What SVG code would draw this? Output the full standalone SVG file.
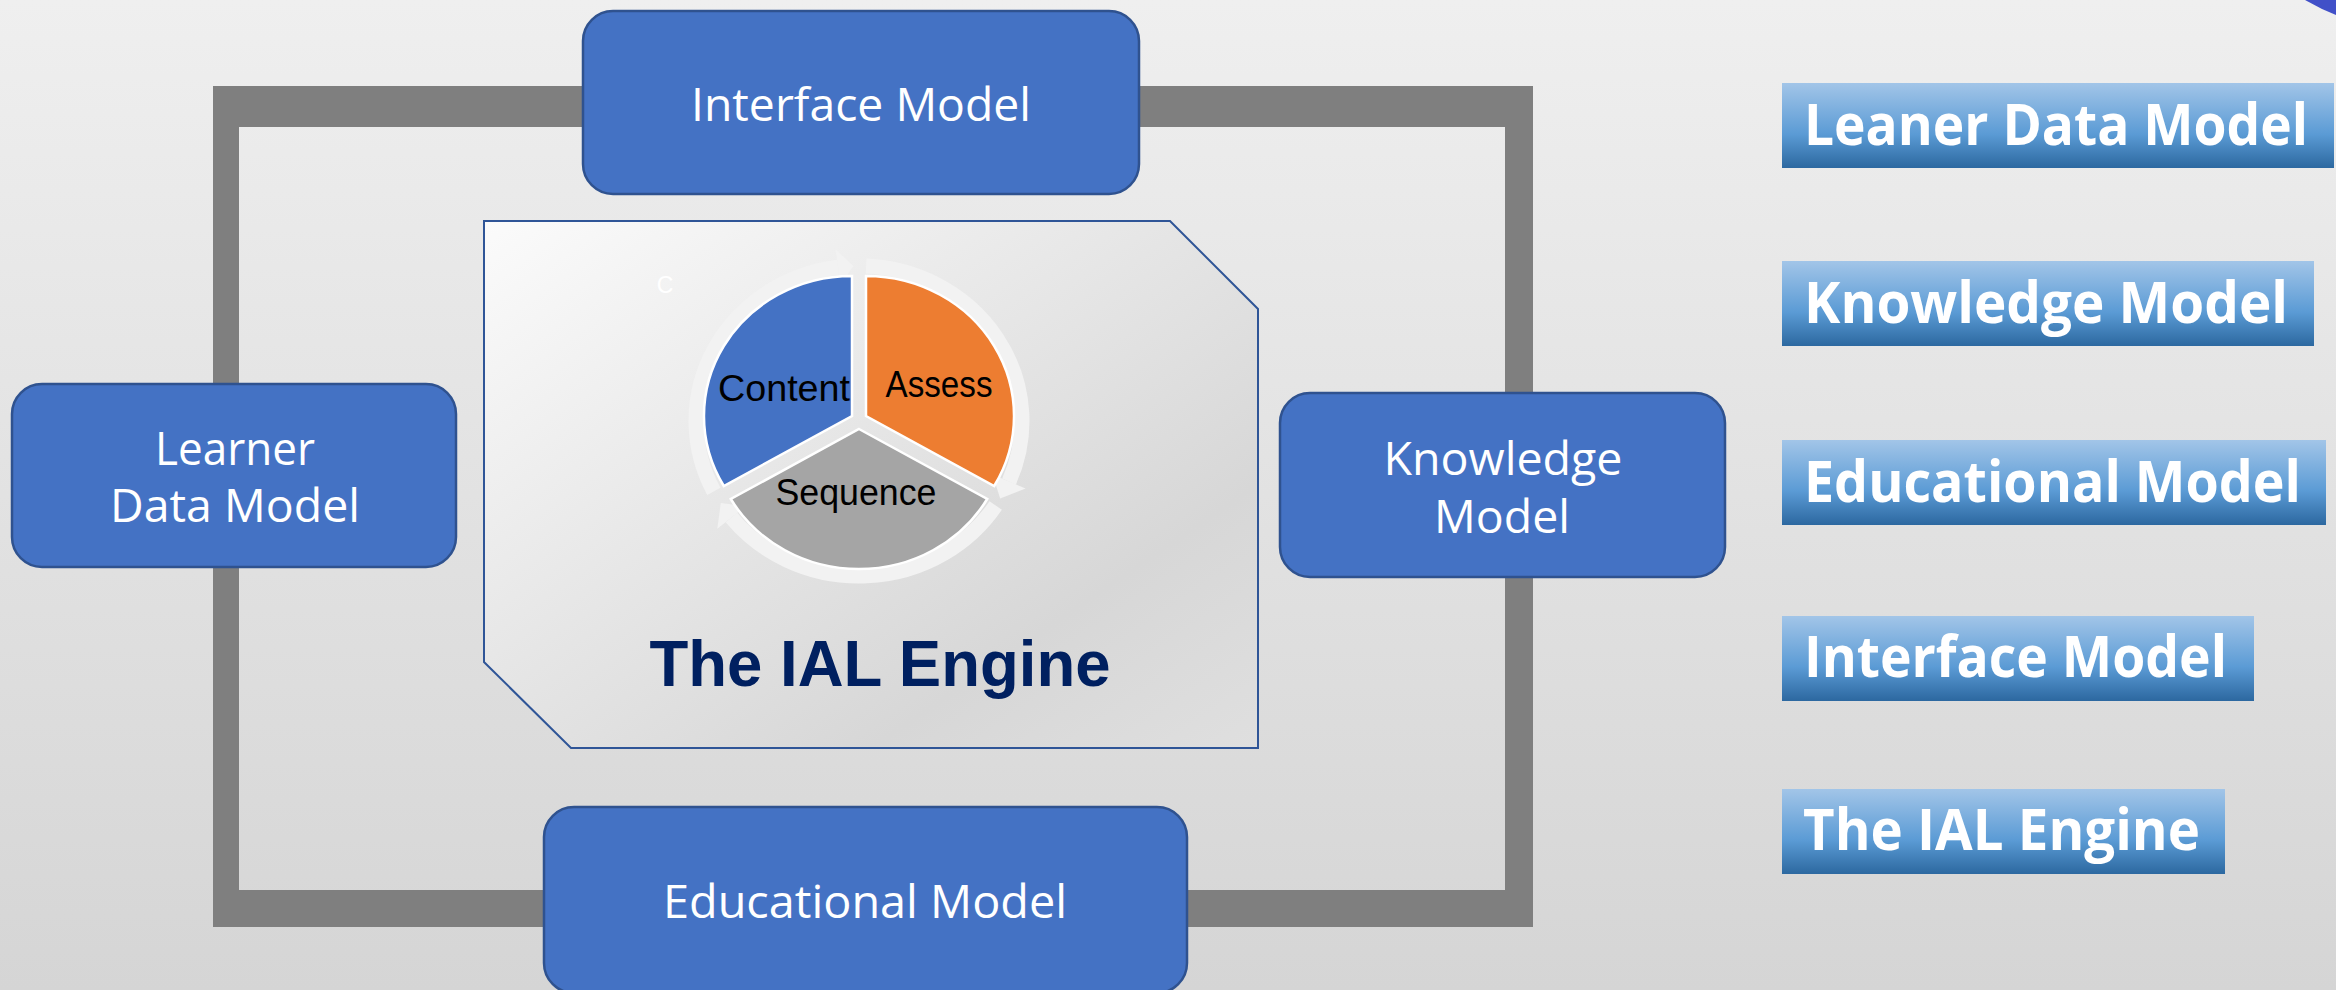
<svg xmlns="http://www.w3.org/2000/svg" width="2336" height="990" viewBox="0 0 2336 990">
<defs>
<linearGradient id="bg" x1="0" y1="0" x2="0" y2="1">
<stop offset="0" stop-color="#efefef"/>
<stop offset="1" stop-color="#d5d5d5"/>
</linearGradient>
<linearGradient id="panel" x1="0" y1="0" x2="1" y2="1">
<stop offset="0" stop-color="#fbfbfb"/>
<stop offset="0.75" stop-color="#d7d7d7"/>
<stop offset="1" stop-color="#dfdfdf"/>
</linearGradient>
<linearGradient id="tag" x1="0" y1="0" x2="0" y2="1">
<stop offset="0" stop-color="#a2c5e8"/>
<stop offset="0.6" stop-color="#5b9bd5"/>
<stop offset="1" stop-color="#2c68a0"/>
</linearGradient>
<style>
.node{fill:#4472C4;stroke:#2F528F;stroke-width:2.5}
.nt{font-family:"Open Sans","Noto Sans",sans-serif;font-size:46px;fill:#ffffff;text-anchor:middle}
.tag{fill:url(#tag)}
.tt{font-family:"Open Sans","Noto Sans",sans-serif;font-weight:bold;font-size:58px;fill:#ffffff}
.ring{fill:none;stroke:#f2f2f2;stroke-width:15}
.head{fill:#f2f2f2}
.pt{font-family:"Liberation Sans",Arial,sans-serif;font-size:36px;fill:#000000;text-anchor:middle}
.slice{stroke:#ffffff;stroke-width:2.5}
</style>
</defs>
<rect x="0" y="0" width="2336" height="990" fill="url(#bg)"/>
<polygon points="2305,0 2336,0 2336,15 2322,9" fill="#4150c8"/>

<g id="connectors">
<path d="M213 86 H1533 V927 H213 Z M239 127 V890 H1505 V127 Z" fill="#7f7f7f" fill-rule="evenodd"/>
</g>

<g id="engine">
<polygon points="484,221 1170,221 1258,309 1258,748 571,748 484,662" fill="url(#panel)" stroke="#2F5597" stroke-width="2"/>
<text x="665" y="293" font-family="Liberation Sans, Arial, sans-serif" font-size="23" fill="#ffffff" text-anchor="middle">C</text>
<g id="cycle">
<path class="ring" d="M713.8 491.4 A163 155 0 0 1 838 267.3"/>
<polygon class="head" points="835.7,249.4 853.3,266.1 840.3,285.1"/>
<path class="ring" d="M866.1 266.1 A163 155 0 0 1 1009 481.6"/>
<polygon class="head" points="1025.6,488.6 1000.2,498.5 992.5,474.5"/>
<path class="ring" d="M995.7 505.4 A163 155 0 0 1 731.4 517.5"/>
<polygon class="head" points="745.5,506.3 720.8,503.1 717.3,528.7"/>
<path class="slice" fill="#4472C4" d="M852 416 L852 276 A148 140 0 0 0 723.8 486 Z"/>
<path class="slice" fill="#ED7D31" d="M866 416 L866 276 A148 140 0 0 1 994.2 486 Z"/>
<path class="slice" fill="#A5A5A5" d="M859 429 L987.2 499 A148 140 0 0 1 730.8 499 Z"/>
<text class="pt" x="784" y="401" textLength="132" lengthAdjust="spacingAndGlyphs">Content</text>
<text class="pt" x="939" y="397" textLength="107" lengthAdjust="spacingAndGlyphs">Assess</text>
<text class="pt" x="856" y="505" textLength="161" lengthAdjust="spacingAndGlyphs">Sequence</text>
</g>
<text x="880" y="686" font-family="Liberation Sans, Arial, sans-serif" font-weight="bold" font-size="64" fill="#002060" text-anchor="middle" textLength="461" lengthAdjust="spacingAndGlyphs">The IAL Engine</text>
</g>

<g id="interface-model">
<rect class="node" x="583" y="11" width="556" height="183" rx="30"/>
<text class="nt" x="861" y="121" textLength="340" lengthAdjust="spacingAndGlyphs">Interface Model</text>
</g>
<g id="learner-data-model">
<rect class="node" x="12" y="384" width="444" height="183" rx="30"/>
<text class="nt" x="235" y="465" textLength="160" lengthAdjust="spacingAndGlyphs">Learner</text>
<text class="nt" x="235" y="522" textLength="250" lengthAdjust="spacingAndGlyphs">Data Model</text>
</g>
<g id="knowledge-model">
<rect class="node" x="1280" y="393" width="445" height="184" rx="30"/>
<text class="nt" x="1503" y="475" textLength="239" lengthAdjust="spacingAndGlyphs">Knowledge</text>
<text class="nt" x="1502" y="533" textLength="136" lengthAdjust="spacingAndGlyphs">Model</text>
</g>
<g id="educational-model">
<rect class="node" x="544" y="807" width="643" height="186" rx="30"/>
<text class="nt" x="865" y="918" textLength="404" lengthAdjust="spacingAndGlyphs">Educational Model</text>
</g>

<g id="legend">
<g id="tag-leaner"><rect class="tag" x="1782" y="83" width="552" height="85"/>
<text class="tt" x="1804" y="145" textLength="504" lengthAdjust="spacingAndGlyphs">Leaner Data Model</text></g>
<g id="tag-knowledge"><rect class="tag" x="1782" y="261" width="532" height="85"/>
<text class="tt" x="1804" y="323" textLength="484" lengthAdjust="spacingAndGlyphs">Knowledge Model</text></g>
<g id="tag-educational"><rect class="tag" x="1782" y="440" width="544" height="85"/>
<text class="tt" x="1804" y="502" textLength="497" lengthAdjust="spacingAndGlyphs">Educational Model</text></g>
<g id="tag-interface"><rect class="tag" x="1782" y="616" width="472" height="85"/>
<text class="tt" x="1804" y="677" textLength="423" lengthAdjust="spacingAndGlyphs">Interface Model</text></g>
<g id="tag-engine"><rect class="tag" x="1782" y="789" width="443" height="85"/>
<text class="tt" x="1803" y="850" textLength="397" lengthAdjust="spacingAndGlyphs">The IAL Engine</text></g>
</g>
</svg>
